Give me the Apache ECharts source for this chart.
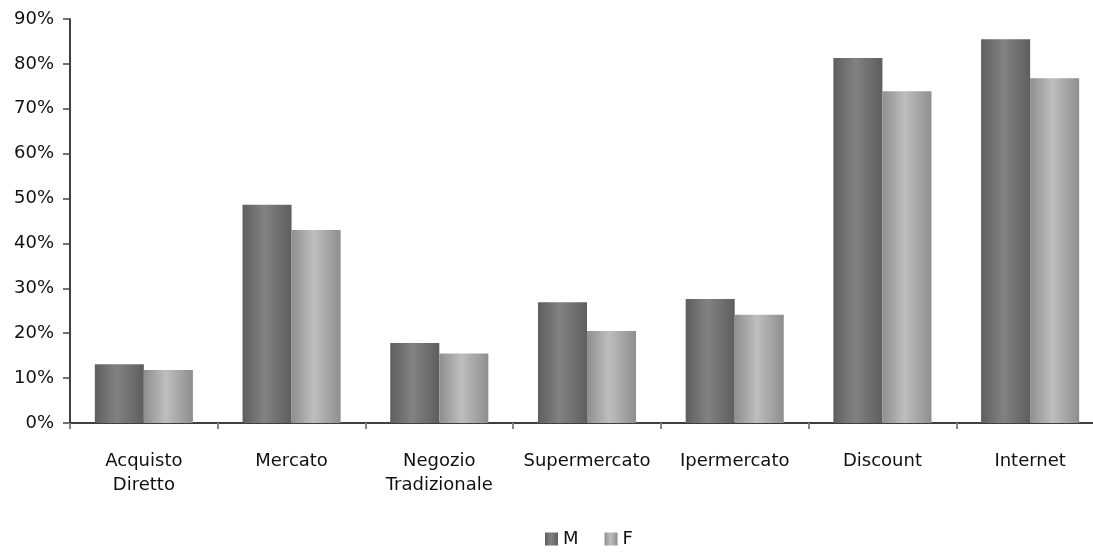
<!DOCTYPE html>
<html><head><meta charset="utf-8">
<script src="https://cdn.jsdelivr.net/npm/echarts@6/dist/echarts.min.js"></script>
<style>html,body{margin:0;padding:0;background:#fff;overflow:hidden}#c{width:1110px;height:555px}</style>
</head><body><div id="c"></div>
<script>
const categories = ['Acquisto\nDiretto', 'Mercato', 'Negozio\nTradizionale', 'Supermercato', 'Ipermercato', 'Discount', 'Internet'];
const seriesM = [13.1, 48.6, 17.8, 26.9, 27.6, 81.3, 85.5];
const seriesF = [11.8, 43.0, 15.5, 20.5, 24.1, 73.9, 76.8];
const yTicks = [0, 10, 20, 30, 40, 50, 60, 70, 80, 90];

function grad(edge, mid) {
  return new echarts.graphic.LinearGradient(0, 0, 1, 0, [
    {offset: 0, color: edge}, {offset: 0.45, color: mid}, {offset: 1, color: edge}
  ]);
}
const font = '"DejaVu Sans", sans-serif';
const chart = echarts.init(document.getElementById('c'));
chart.setOption({
  animation: false,
  grid: {left: 70, top: 19, width: 1034, height: 404, containLabel: false},
  legend: {
    bottom: 2, left: 540, itemWidth: 13, itemHeight: 13, itemGap: 26,
    icon: 'rect',
    textStyle: {fontFamily: font, fontSize: 18, color: '#111', padding: [0, 0, 0, 0]},
    data: ['M', 'F']
  },
  xAxis: {
    type: 'category', data: categories,
    axisLine: {lineStyle: {color: '#000', width: 1.5}},
    axisTick: {show: true, length: 6, lineStyle: {color: '#888', width: 2}},
    axisLabel: {fontFamily: font, fontSize: 18, color: '#111', margin: 26, lineHeight: 24, interval: 0}
  },
  yAxis: {
    type: 'value', min: 0, max: 90, interval: 10,
    axisLine: {show: true, lineStyle: {color: '#000', width: 1.5}},
    axisTick: {show: true, length: 7, lineStyle: {color: '#444', width: 1.5}},
    splitLine: {show: false},
    axisLabel: {fontFamily: font, fontSize: 18, color: '#111', margin: 16,
      formatter: v => yTicks.includes(v) ? v + '%' : ''}
  },
  series: [
    {name: 'M', type: 'bar', data: seriesM, barGap: '0%', barCategoryGap: '33.6%',
     itemStyle: {color: grad('#5e5e5e', '#828282')}},
    {name: 'F', type: 'bar', data: seriesF,
     itemStyle: {color: grad('#8e8e8e', '#bebebe')}}
  ]
});
</script></body></html>
